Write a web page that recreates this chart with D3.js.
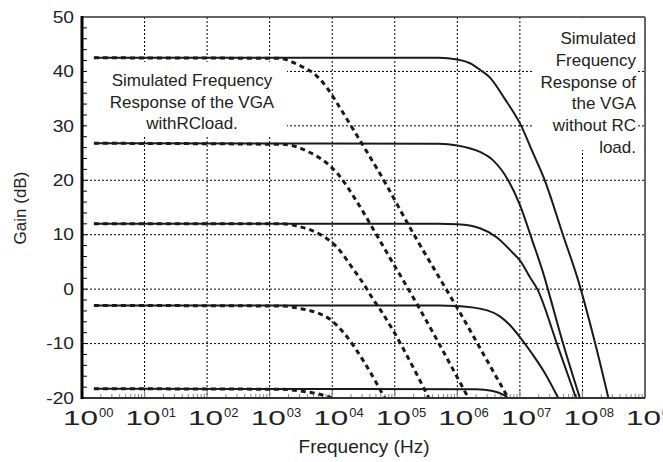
<!DOCTYPE html>
<html>
<head>
<meta charset="utf-8">
<script src="https://cdn.jsdelivr.net/npm/d3@7"></script>
<style>
  body { margin: 0; background: #fff; }
  svg { display: block; }
</style>
</head>
<body>
<script>
// tick values
const freqTicks = [1, 1e1, 1e2, 1e3, 1e4, 1e5, 1e6, 1e7, 1e8, 1e9]
const freqExp = ["00", "01", "02", "03", "04", "05", "06", "07", "08", "09"]
const gainTicks = [-20, -10, 0, 10, 20, 30, 40, 50]

// without RC load (solid) - [Hz, dB]
const noLoad1 = [[1.55, 42.5], [5e5, 42.5], [1e6, 42.2], [1.6e6, 41.5], [2.3e6, 40.3], [3.3e6, 38.9], [5.7e6, 35], [1.05e7, 30], [1.58e7, 25.3], [2.5e7, 20], [4.9e7, 9.9], [8.5e7, 1.7], [1.6e8, -10], [2.6e8, -20]]
const noLoad2 = [[1.55, 26.8], [5e5, 26.7], [1e6, 26.4], [2.3e6, 25.2], [3.7e6, 23.7], [6.5e6, 20], [1e7, 15.5], [1.55e7, 9.2], [2.5e7, 2], [2.8e7, 0], [4.9e7, -10], [9.1e7, -20]]
const noLoad3 = [[1.55, 12], [5e5, 12], [1e6, 11.9], [2.3e6, 11.2], [4.3e6, 9.5], [7.8e6, 6.6], [1e7, 5.3], [1.45e7, 2.2], [1.9e7, 0], [3.9e7, -10], [7.9e7, -20]]
const noLoad4 = [[1.55, -3], [5e5, -3], [1e6, -3.1], [3e6, -3.9], [4.8e6, -5], [6.9e6, -6.6], [1e7, -8.8], [1.6e7, -12], [2.5e7, -15.4], [4.1e7, -20]]
const noLoad5 = [[1.55, -18.3], [2e6, -18.4], [3.7e6, -18.7], [5.4e6, -19.4], [6.5e6, -20]]

// with RC load (dashed) - [Hz, dB]
const rcLoad1 = [[1.55, 42.5], [1.4e3, 42.4], [3e3, 41.1], [5.6e3, 39.2], [8.5e3, 36.8], [1.3e4, 33.5], [2.1e4, 29.6], [3.3e4, 25.9], [5.1e4, 22.3], [2.2e5, 9.3], [5.6e5, 1.4], [1.1e6, -4.3], [2.3e6, -10.8], [6.5e6, -20]]
const rcLoad2 = [[1.55, 26.8], [1.6e3, 26.6], [4.4e3, 25.1], [9.1e3, 22.7], [1.2e4, 21.3], [2.5e4, 16], [4.7e4, 10.7], [1.05e5, 3.8], [1.35e5, 1.7], [1.5e6, -20]]
const rcLoad3 = [[1.55, 12], [1.6e3, 12], [3.2e3, 11.4], [4.7e3, 10.8], [6.3e3, 10.1], [9.1e3, 8.9], [1.3e4, 7.2], [2.1e4, 3.9], [3.5e4, 0.2], [4.3e4, -1.5], [6.2e4, -4.2], [3.5e5, -20]]
const rcLoad4 = [[1.55, -3], [1.6e3, -3.1], [3.2e3, -3.6], [5.6e3, -4.3], [9.1e3, -5.5], [1.6e4, -8.3], [3.2e4, -13.3], [6.9e4, -20]]
const rcLoad5 = [[1.55, -18.3], [1.5e3, -18.4], [3.5e3, -18.8], [6.3e3, -19.3], [1e4, -20]]

const noteLeft = ["Simulated Frequency", "Response of the VGA", "withRCload."]
const noteRight = ["Simulated", "Frequency", "Response of", "the VGA", "without RC", "load."]

const width = 663
const height = 462
const pL = 82, pR = 645, pT = 17, pB = 398

const svg = d3.select("body").append("svg")
    .attr("width", width)
    .attr("height", height)
    .attr("font-family", "Liberation Sans, Arial, Helvetica, sans-serif")

const x = d3.scaleLog().domain([1, 1e9]).range([pL, pR])
const y = d3.scaleLinear().domain([-20, 50]).range([pB, pT])

svg.append("clipPath").attr("id", "plot")
    .append("rect")
    .attr("x", pL).attr("y", pT)
    .attr("width", pR - pL).attr("height", pB - pT)

// grid
svg.append("g").selectAll("line")
    .data(freqTicks.slice(1, -1))
    .enter().append("line")
    .attr("x1", d => x(d)).attr("x2", d => x(d))
    .attr("y1", pT).attr("y2", pB)
    .attr("stroke", "#000").attr("stroke-width", 1).attr("stroke-dasharray", "2,2")
svg.append("g").selectAll("line")
    .data(gainTicks.slice(1, -1))
    .enter().append("line")
    .attr("x1", pL).attr("x2", pR)
    .attr("y1", d => y(d)).attr("y2", d => y(d))
    .attr("stroke", "#000").attr("stroke-width", 1).attr("stroke-dasharray", "2,2")

// white boxes behind the notes
svg.append("rect").attr("x", pL + 2).attr("y", 62).attr("width", 287 - pL - 2).attr("height", 74).attr("fill", "#fff")
svg.append("rect").attr("x", 533).attr("y", pT + 1).attr("width", 104).attr("height", 132).attr("fill", "#fff")

// minor ticks
const minorX = []
d3.range(0, 9).forEach(e => d3.range(2, 10).forEach(m => minorX.push(m * Math.pow(10, e))))
svg.append("g").selectAll("line")
    .data(minorX)
    .enter().append("line")
    .attr("x1", d => x(d)).attr("x2", d => x(d))
    .attr("y1", pB).attr("y2", pB - 4)
    .attr("stroke", "#888").attr("stroke-width", 1)
svg.append("g").selectAll("line")
    .data(freqTicks.slice(1, -1))
    .enter().append("line")
    .attr("x1", d => x(d)).attr("x2", d => x(d))
    .attr("y1", pB).attr("y2", pB - 7)
    .attr("stroke", "#888").attr("stroke-width", 1.2)
svg.append("g").selectAll("line")
    .data(d3.range(-18, 50, 2))
    .enter().append("line")
    .attr("x1", pL).attr("x2", pL + 5)
    .attr("y1", d => y(d)).attr("y2", d => y(d))
    .attr("stroke", "#000").attr("stroke-width", 1)

// curves
const line = d3.line()
    .x(d => x(d[0]))
    .y(d => y(d[1]))
    .curve(d3.curveMonotoneX)

const curves = svg.append("g").attr("clip-path", "url(#plot)")
;[noLoad1, noLoad2, noLoad3, noLoad4, noLoad5].forEach(s => {
    curves.append("path").datum(s)
        .attr("d", line)
        .attr("fill", "none")
        .attr("stroke", "#1a1a1a")
        .attr("stroke-width", 2)
})
;[rcLoad1, rcLoad2, rcLoad3, rcLoad4, rcLoad5].forEach(s => {
    curves.append("path").datum(s)
        .attr("d", line)
        .attr("fill", "none")
        .attr("stroke", "#1a1a1a")
        .attr("stroke-width", 3)
        .attr("stroke-dasharray", "5,4")
})

// frame
svg.append("line").attr("x1", pL).attr("x2", pR).attr("y1", pT).attr("y2", pT)
    .attr("stroke", "#333").attr("stroke-width", 1.5)
svg.append("line").attr("x1", pR).attr("x2", pR).attr("y1", pT).attr("y2", pB)
    .attr("stroke", "#666").attr("stroke-width", 2)
svg.append("line").attr("x1", pL).attr("x2", pR).attr("y1", pB).attr("y2", pB)
    .attr("stroke", "#333").attr("stroke-width", 2)
svg.append("line").attr("x1", pL).attr("x2", pL).attr("y1", pT - 1).attr("y2", pB + 1)
    .attr("stroke", "#000").attr("stroke-width", 3)

// y tick labels
svg.append("g").selectAll("text")
    .data(gainTicks)
    .enter().append("text")
    .attr("transform", d => `translate(74,${y(d)}) scale(1.2,1)`)
    .attr("dy", "0.36em")
    .attr("text-anchor", "end")
    .attr("font-size", 16)
    .attr("fill", "#222")
    .text(d => d)

// x tick labels 10^nn
const xl = svg.append("g").selectAll("g")
    .data(freqTicks)
    .enter().append("g")
    .attr("transform", d => `translate(${x(d)},0)`)
xl.append("text")
    .attr("transform", "translate(-1.5,425) scale(1.5,1)")
    .attr("text-anchor", "middle")
    .attr("font-size", 21)
    .attr("fill", "#222")
    .text("10")
xl.append("text")
    .attr("x", 17).attr("y", 417)
    .attr("font-size", 13)
    .attr("fill", "#222")
    .text((d, i) => freqExp[i])

// axis titles
svg.append("text")
    .attr("transform", "translate(26,208) rotate(-90)")
    .attr("text-anchor", "middle")
    .attr("font-size", 17)
    .attr("fill", "#222")
    .text("Gain (dB)")
svg.append("text")
    .attr("x", 364).attr("y", 453)
    .attr("text-anchor", "middle")
    .attr("font-size", 19)
    .attr("fill", "#222")
    .text("Frequency (Hz)")

// notes
svg.append("g").selectAll("text")
    .data(noteLeft)
    .enter().append("text")
    .attr("x", 192).attr("y", (d, i) => 86 + i * 21.5)
    .attr("text-anchor", "middle")
    .attr("font-size", 17)
    .attr("fill", "#222")
    .text(d => d)
svg.append("g").selectAll("text")
    .data(noteRight)
    .enter().append("text")
    .attr("x", 636).attr("y", (d, i) => 44 + i * 21.8)
    .attr("text-anchor", "end")
    .attr("font-size", 17)
    .attr("fill", "#222")
    .text(d => d)
</script>
</body>
</html>
